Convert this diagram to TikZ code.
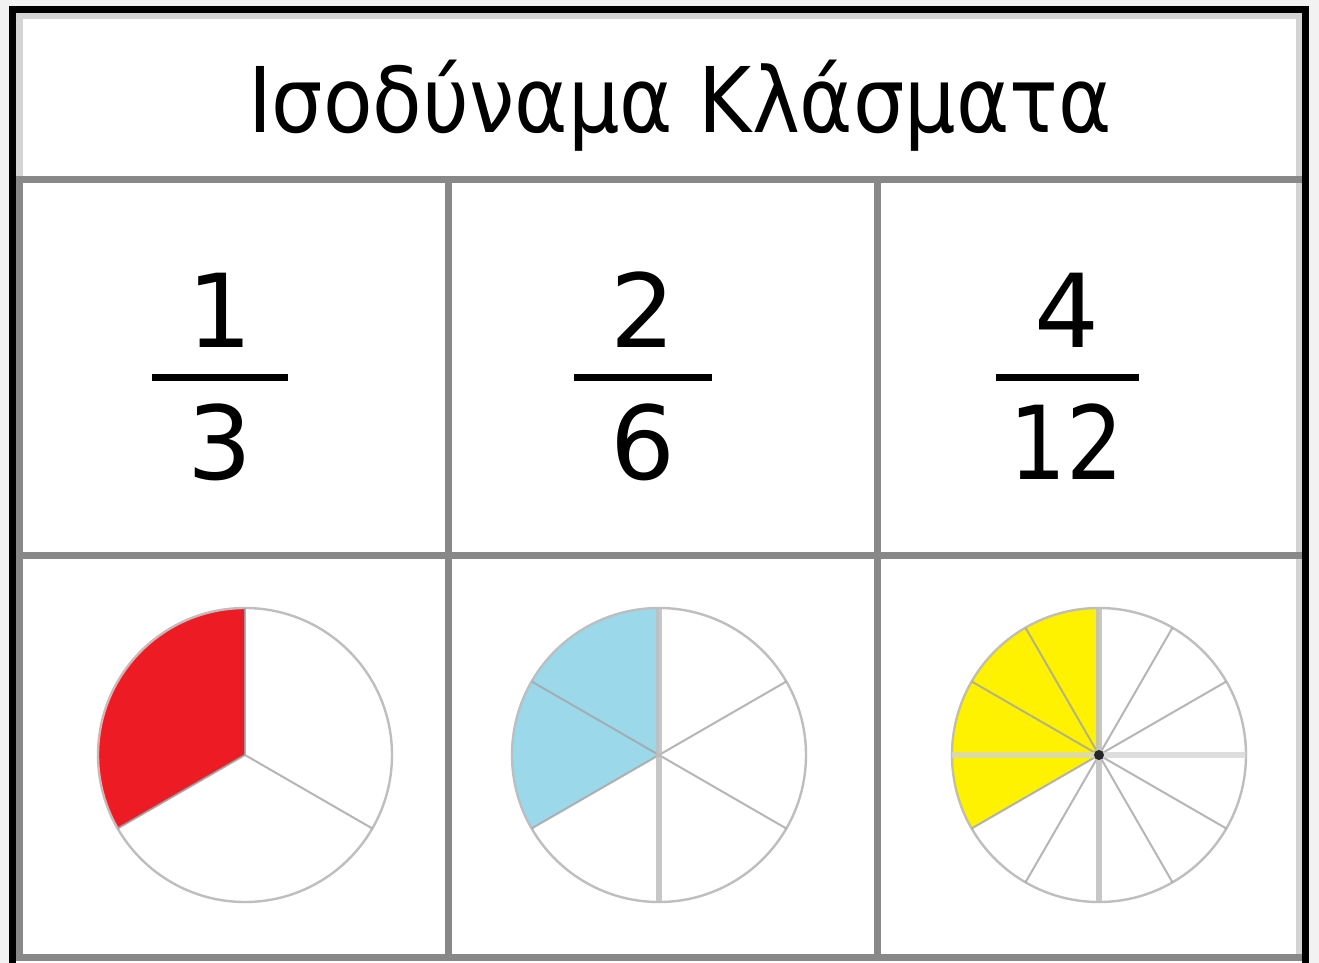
\documentclass[tikz,border=0pt]{standalone}
\usepackage{fontspec}
\setmainfont{DejaVu Sans}
\definecolor{outbg}{HTML}{F2F2F2}
\definecolor{gridgray}{HTML}{888888}
\definecolor{lightgrid}{HTML}{D4D4D4}
\definecolor{pieline}{HTML}{BEBEBE}
\definecolor{spokegray}{HTML}{A4A4A4}
\definecolor{redf}{HTML}{ED1C24}
\definecolor{bluef}{HTML}{9BD8EA}
\definecolor{yellowf}{HTML}{FFF200}
\tikzset{
  x=0.5pt, y=0.5pt,
  blackedge/.style={line width=3.5pt, draw=black},
  grayedge/.style={line width=3.5pt, draw=gridgray},
  lightedge/.style={line width=3.2pt, draw=lightgrid},
  fracbar/.style={line width=3.5pt, draw=black},
  digit/.style={anchor=base, inner sep=0pt, font=\fontsize{51}{60}\selectfont},
  rim/.style={line width=1.2pt, draw=pieline},
  spoke/.style={line width=1pt, draw=spokegray, opacity=0.8},
  axisspoke/.style={line width=2.6pt, draw=pieline, opacity=0.85},
}
\newsavebox\titlebox
\newlength\titlew
\begin{document}
\sbox\titlebox{\fontsize{45.3}{54}\selectfont Ισοδύναμα Κλάσματα}
\setlength\titlew{\wd\titlebox}
\pgfmathsetmacro\tsx{432pt/\titlew}
\begin{tikzpicture}
\useasboundingbox (0,0) rectangle (1319,-963);
% backgrounds
\fill[outbg] (0,0) rectangle (1319,-963);
\fill[white] (12.5,-9.5) rectangle (1305.5,-963);
% inner grid lines
\draw[lightedge] (16,-16) -- (1302,-16);
\draw[lightedge] (19.5,-13) -- (19.5,-176);
\draw[grayedge] (19.5,-176) -- (19.5,-961);
\draw[lightedge] (1299,-13) -- (1299,-961);
\draw[grayedge] (16,-179.5) -- (1302,-179.5);
\draw[grayedge] (16,-555.5) -- (1302,-555.5);
\draw[grayedge] (448.5,-176) -- (448.5,-961);
\draw[grayedge] (877,-176) -- (877,-961);
\draw[grayedge] (16,-957.5) -- (1302,-957.5);
% outer black border
\draw[blackedge] (12.5,-963) -- (12.5,-9.5) -- (1305.5,-9.5) -- (1305.5,-963);

% title
\node[anchor=base, inner sep=0pt] (title) at (680,-133) {\scalebox{\tsx}[1]{\usebox\titlebox}};

% fractions
\node[digit] (n1) at (220,-347) {1};
\draw[fracbar] (152,-377.5) -- (288,-377.5);
\node[digit] (d1) at (220,-479) {3};

\node[digit] (n2) at (643,-347) {2};
\draw[fracbar] (574,-377.5) -- (712,-377.5);
\node[digit] (d2) at (643,-479) {6};

\node[digit] (n3) at (1067,-347) {4};
\draw[fracbar] (996,-377.5) -- (1139,-377.5);
\node[digit] (d3) at (1067,-479) {\scalebox{0.88}[1]{12}};

% pie 1: thirds
\coordinate (c1) at (245,-755);
\fill[redf] (c1) -- ++(90:147) arc[start angle=90, end angle=210, radius=147] -- cycle;
\draw[rim] (c1) circle[radius=147];
\foreach \a in {90,210,330} \draw[spoke] (c1) -- ++(\a:147);

% pie 2: sixths
\coordinate (c2) at (659,-755);
\fill[bluef] (c2) -- ++(90:147) arc[start angle=90, end angle=210, radius=147] -- cycle;
\draw[rim] (c2) circle[radius=147];
\foreach \a in {30,150,210,330} \draw[spoke] (c2) -- ++(\a:147);
\draw[axisspoke] (c2) ++(0,147) -- ++(0,-294);

% pie 3: twelfths
\coordinate (c3) at (1099,-755);
\fill[yellowf] (c3) -- ++(90:147) arc[start angle=90, end angle=210, radius=147] -- cycle;
\draw[rim] (c3) circle[radius=147];
\foreach \a in {30,60,120,150,210,240,300,330} \draw[spoke] (c3) -- ++(\a:147);
\draw[line width=3pt, draw=lightgrid, opacity=0.75] (c3) ++(-147,0) -- ++(294,0);
\draw[axisspoke] (c3) ++(0,147) -- ++(0,-294);
\fill[black!85] (c3) circle[radius=5];
\end{tikzpicture}
\end{document}
